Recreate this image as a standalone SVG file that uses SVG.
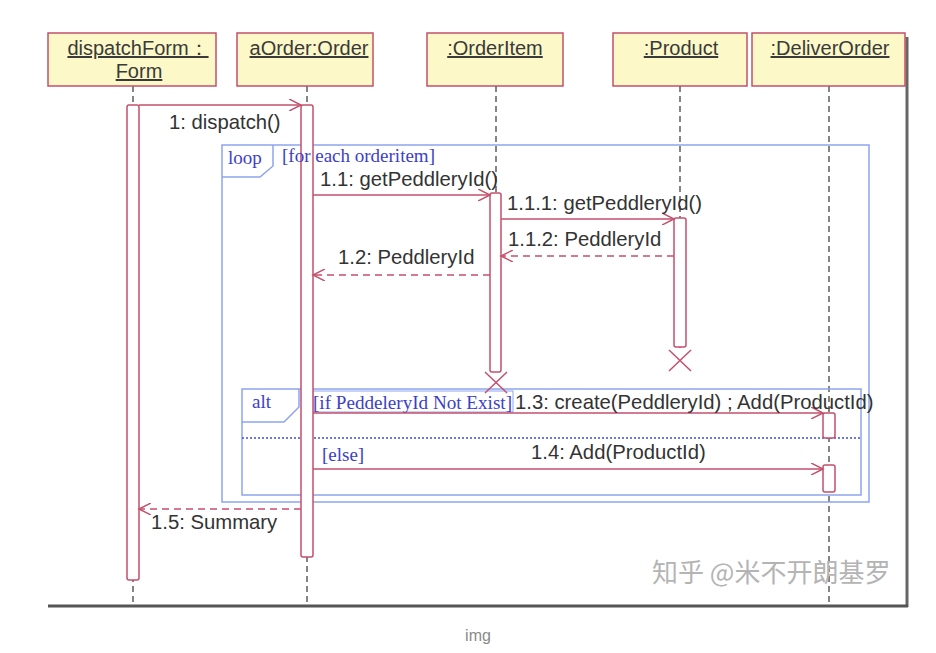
<svg xmlns="http://www.w3.org/2000/svg" width="936" height="653" viewBox="0 0 936 653">
<defs>
<style>
.hdr{fill:#fdf8c8;stroke:#c4506c;stroke-width:1.5}
.ht{font-family:"Liberation Sans",Arial,sans-serif;font-size:20px;fill:#3a3a3a;text-anchor:middle;text-decoration:underline}
.life{stroke:#666;stroke-width:1.6;stroke-dasharray:6,4}
.act{fill:#fff;stroke:#c4506c;stroke-width:1.5}
.msg{stroke:#c4506c;stroke-width:1.5;fill:none}
.ret{stroke:#c4506c;stroke-width:1.5;fill:none;stroke-dasharray:7,5}
.ml{font-family:"Liberation Sans",Arial,sans-serif;font-size:20.3px;fill:#333}
.frm{fill:none;stroke:#8ea4f0;stroke-width:1.5}
.gd{font-family:"Liberation Serif","Times New Roman",serif;font-size:19px;fill:#3c40c8}
.x{stroke:#c4506c;stroke-width:1.5}
</style>
<marker id="open" markerWidth="14" markerHeight="12" refX="12" refY="6" orient="auto" markerUnits="userSpaceOnUse">
<path d="M0,0 L12,6 L0,12" fill="none" stroke="#c4506c" stroke-width="1.5"/>
</marker>
</defs>
<rect width="936" height="653" fill="#fff"/>
<!-- page frame shadow -->
<line x1="907" y1="37" x2="907" y2="607" stroke="#666" stroke-width="3"/>
<line x1="48" y1="606" x2="908" y2="606" stroke="#555" stroke-width="3"/>

<!-- lifelines -->
<g id="lifelines">
<line class="life" x1="133" y1="86" x2="133" y2="604"/>
<line class="life" x1="307" y1="86" x2="307" y2="604"/>
<line class="life" x1="496" y1="86" x2="496" y2="372"/>
<line class="life" x1="680" y1="86" x2="680" y2="348"/>
<line class="life" x1="829" y1="86" x2="829" y2="604"/>
</g>

<!-- frames -->
<g id="loop">
<rect class="frm" x="222" y="145" width="647" height="357"/>
<path class="frm" d="M222,177 L260,177 L273,166 L273,145"/>
<text x="228" y="164" class="gd" font-size="20">loop</text>
</g>
<g id="alt">
<rect class="frm" x="242" y="389" width="619" height="106"/>
<path class="frm" d="M242,422 L284,422 L299,407 L299,389"/>
<text x="252" y="408" class="gd" font-size="20">alt</text>
<line x1="242" y1="438" x2="861" y2="438" stroke="#3c50d8" stroke-width="1.5" stroke-dasharray="2,2"/>
<rect x="313" y="391" width="200" height="21" fill="none" stroke="#8ea4f0" stroke-width="1"/>
<text x="313" y="409" class="gd" textLength="199" lengthAdjust="spacingAndGlyphs">[if PeddeleryId Not Exist]</text>
<text x="322" y="461" class="gd">[else]</text>
</g>

<!-- headers -->
<g id="dispatchForm">
<rect class="hdr" x="48" y="33" width="168" height="53"/>
<text class="ht" x="138" y="55">dispatchForm：</text>
<text class="ht" x="139" y="78">Form</text>
<rect class="act" x="127" y="105" width="12" height="475" rx="2"/>
</g>
<g id="aOrder">
<rect class="hdr" x="237" y="33" width="136" height="53"/>
<text class="ht" x="309" y="55">aOrder:Order</text>
<rect class="act" x="301" y="105" width="12" height="452" rx="2"/>
</g>
<g id="orderItem">
<rect class="hdr" x="427" y="33" width="136" height="53"/>
<text class="ht" x="495" y="55">:OrderItem</text>
<rect class="act" x="490" y="193" width="11" height="179" rx="2"/>
<line class="x" x1="485" y1="372" x2="507" y2="393"/>
<line class="x" x1="507" y1="372" x2="485" y2="393"/>
</g>
<g id="product">
<rect class="hdr" x="613" y="33" width="134" height="53"/>
<text class="ht" x="681" y="55">:Product</text>
<rect class="act" x="674" y="218" width="12" height="129" rx="2"/>
<line class="x" x1="669" y1="350" x2="691" y2="371"/>
<line class="x" x1="691" y1="350" x2="669" y2="371"/>
</g>
<g id="deliverOrder">
<rect class="hdr" x="752" y="33" width="153" height="53"/>
<text class="ht" x="830" y="55">:DeliverOrder</text>
<rect class="act" x="823" y="413" width="12" height="25" rx="2"/>
<rect class="act" x="823" y="465" width="12" height="27" rx="2"/>
</g>
<text x="282" y="162" class="gd">[for each orderitem]</text>

<!-- messages -->
<g id="connectors">
<line class="msg" x1="139" y1="105" x2="301" y2="105" marker-end="url(#open)"/>
<line class="msg" x1="313" y1="195" x2="490" y2="195" marker-end="url(#open)"/>
<line class="msg" x1="501" y1="219" x2="674" y2="219" marker-end="url(#open)"/>
<line class="ret" x1="674" y1="256" x2="501" y2="256" marker-end="url(#open)"/>
<line class="ret" x1="490" y1="275" x2="313" y2="275" marker-end="url(#open)"/>
<line class="msg" x1="313" y1="413" x2="823" y2="413" marker-end="url(#open)"/>
<line class="msg" x1="313" y1="469" x2="823" y2="469" marker-end="url(#open)"/>
<line class="ret" x1="301" y1="509" x2="139" y2="509" marker-end="url(#open)"/>
</g>
<g id="labels">
<text class="ml" x="169" y="129">1: dispatch()</text>
<text class="ml" x="320" y="186">1.1: getPeddleryId()</text>
<text class="ml" x="507" y="210">1.1.1: getPeddleryId()</text>
<text class="ml" x="508" y="246">1.1.2: PeddleryId</text>
<text class="ml" x="338" y="264">1.2: PeddleryId</text>
<text class="ml" x="515" y="409">1.3: create(PeddleryId) ; Add(ProductId)</text>
<text class="ml" x="531" y="459">1.4: Add(ProductId)</text>
<text class="ml" x="151" y="529">1.5: Summary</text>
</g>
<text x="652" y="582" font-family="'Noto Sans CJK SC',sans-serif" font-size="26" fill="#b4b4b4">知乎 @米不开朗基罗</text>
<text x="478" y="641" font-family="'Liberation Sans',Arial,sans-serif" font-size="16" fill="#8a8a8a" text-anchor="middle">img</text>
</svg>
